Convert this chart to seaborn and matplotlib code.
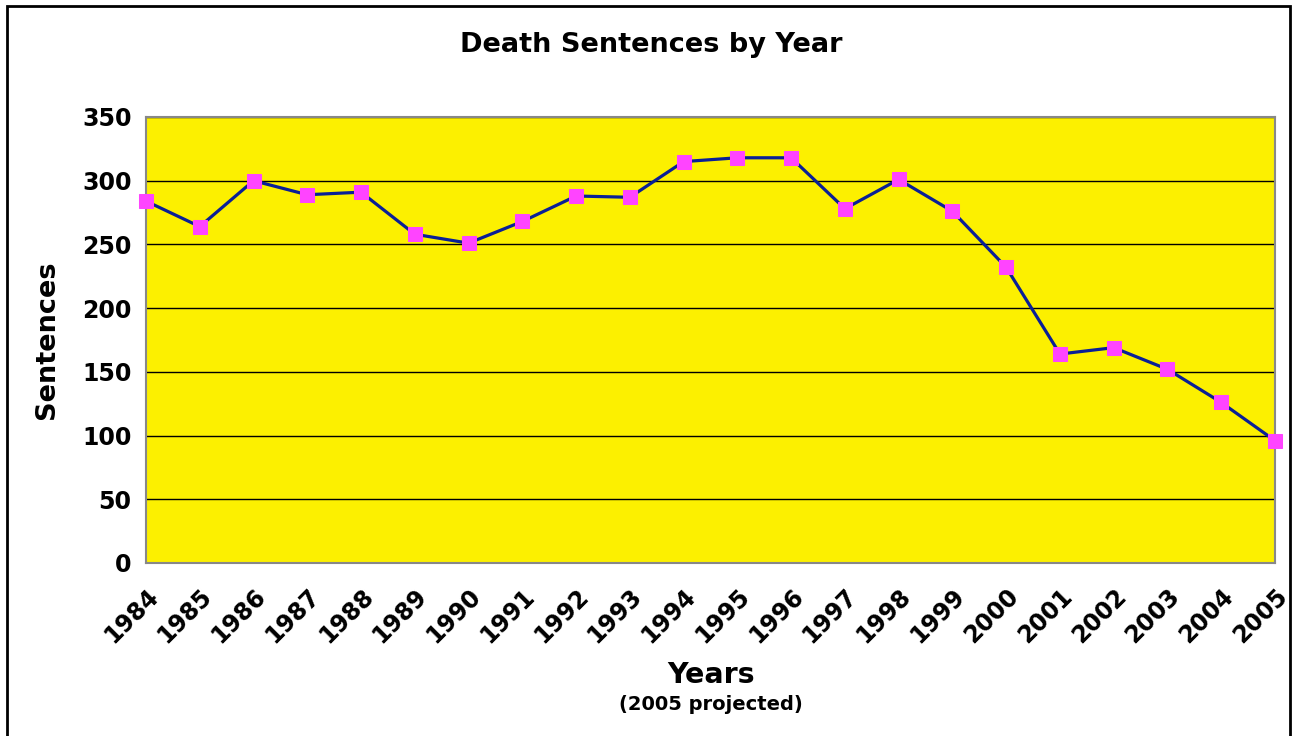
import matplotlib
matplotlib.use("Agg")
import matplotlib.pyplot as plt
import seaborn as sns
import pandas as pd
from matplotlib.patches import Rectangle

years = list(range(1984, 2006))
sentences = [284, 264, 300, 289, 291, 258, 251, 268, 288, 287, 315,
             318, 318, 278, 301, 276, 232, 164, 169, 152, 126, 96]

df = pd.DataFrame({"Year": years, "Sentences": sentences})

sns.set_style("white")
plt.rcParams['font.family'] = ['DejaVu Sans']
plt.rcParams['font.weight'] = 'bold'
plt.rcParams['text.color'] = 'black'
plt.rcParams['axes.labelcolor'] = 'black'

fig = plt.figure(figsize=(12.93, 7.36), dpi=100)
ax = fig.add_axes([146 / 1293, 1 - 563 / 736, (1275 - 146) / 1293, (563 - 117) / 736])
ax.set_facecolor("#FCF000")

sns.lineplot(data=df, x="Year", y="Sentences", ax=ax, color="#0A1F96",
             linewidth=2.3, marker="s", markersize=10,
             markerfacecolor="#FF44FF", markeredgecolor="#FF44FF",
             clip_on=False, zorder=3)

ax.set_xlim(1984, 2005)
ax.set_ylim(0, 350)
ax.set_yticks(range(0, 351, 50))
ax.set_xticks(years)
ax.set_xticklabels([str(y) for y in years], rotation=45, ha="right",
                   rotation_mode="anchor", fontsize=17, fontweight="bold")
ax.tick_params(axis="y", labelsize=17, direction="out", length=7,
               color="#666666", width=1.2, labelcolor="black")
ax.tick_params(axis="x", direction="out", length=7, color="#666666", width=1.2,
               pad=8, labelcolor="black")
for lbl in ax.get_yticklabels():
    lbl.set_fontweight("bold")

ax.yaxis.grid(True, color="black", linewidth=1)
ax.set_axisbelow(True)
for s in ax.spines.values():
    s.set_color("#888888")
    s.set_linewidth(1.5)

ax.set_xlabel("")
ax.set_ylabel("Sentences", fontsize=19.5, fontweight="bold", labelpad=16)

fig.text(651 / 1293, 1 - 45 / 736, "Death Sentences by Year", ha="center",
         va="center", fontsize=19.5, fontweight="bold")
fig.text(711 / 1293, 1 - 675 / 736, "Years", ha="center", va="center",
         fontsize=20.5, fontweight="bold")
fig.text(711 / 1293, 1 - 704 / 736, "(2005 projected)", ha="center",
         va="center", fontsize=14, fontweight="bold")

fig.patches.append(Rectangle((7 / 1293, -0.05), (1290 - 7) / 1293, 1 - 6 / 736 + 0.05,
                             transform=fig.transFigure, fill=False,
                             edgecolor="black", linewidth=2))

fig.savefig("out.png", dpi=100, facecolor="white")
